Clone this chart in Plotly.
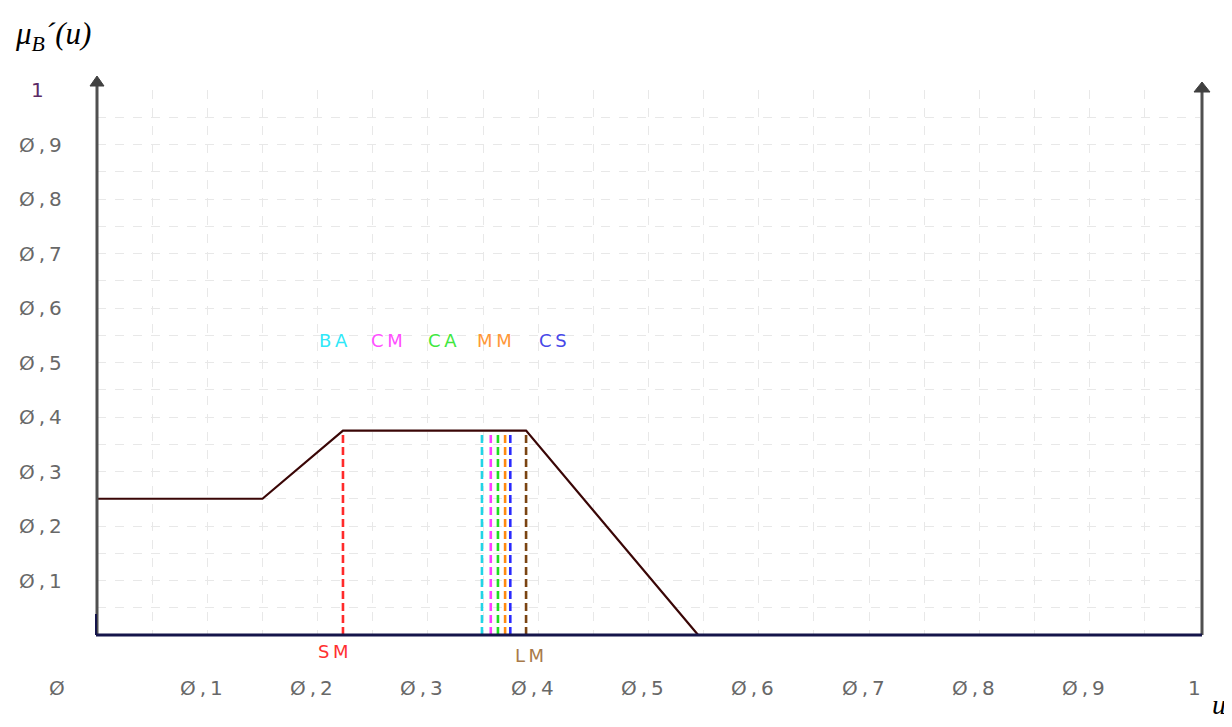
#-------------------------------------------------------
### IMPORTS ###

import plotly.graph_objects as go


#-------------------------------------------------------
### DATA ###

# membership function mu_B'(u)
u_pts  = [0.0, 0.15, 0.223, 0.389, 0.545, 1.0]
mu_pts = [0.25, 0.25, 0.375, 0.375, 0.0, 0.0]

# defuzzification results (vertical dashed lines)
method_names = ['SM', 'BA', 'CM', 'CA', 'MM', 'CS', 'LM']
method_u     = [0.223, 0.349, 0.357, 0.3635, 0.370, 0.3747, 0.389]
method_col   = ['#ff2a2a', '#22d4e6', '#ff3cff', '#22dd22', '#ff8a10', '#2a2aff', '#7a4412']
label_col    = ['#ff3030', '#30e8f8', '#ff50ff', '#40e840', '#ff9838', '#4848e8', '#a87a4a']

# tick labels
x_tickvals = [0, 0.1, 0.2, 0.3, 0.4, 0.5, 0.6, 0.7, 0.8, 0.9, 1]
x_ticktext = ['Ø', 'Ø,1', 'Ø,2', 'Ø,3', 'Ø,4', 'Ø,5', 'Ø,6', 'Ø,7', 'Ø,8', 'Ø,9', '1']
y_tickvals = [0.1, 0.2, 0.3, 0.4, 0.5, 0.6, 0.7, 0.8, 0.9, 1]
y_ticktext = ['Ø,1', 'Ø,2', 'Ø,3', 'Ø,4', 'Ø,5', 'Ø,6', 'Ø,7', 'Ø,8', 'Ø,9', '1']


#-------------------------------------------------------
### FIGURE ###

# page puts the plot 8px in from the corner, so work in screen pixels
OFF = 8
W, H = 1232, 727
L, T = 97 - OFF, 90 - OFF
R, B = W - (1200 - OFF), H - (635 - OFF)
pw, ph = W - L - R, H - T - B

def px_x(p):   # screen pixel -> paper x
    return (p - OFF - L) / pw

def px_y(p):   # screen pixel -> paper y
    return (H - B - (p - OFF)) / ph

def spaced(t):   # wide cad-like lettering
    return '\u2009'.join(t)

tick_font = dict(family='DejaVu Sans', size=20, color='#686868')

fig = go.Figure()

# dashed result lines
for name, uu, col in zip(method_names, method_u, method_col):
    top = mu_pts[2]
    fig.add_trace(go.Scatter(x=[uu, uu], y=[0, top], mode='lines',
                             line=dict(color=col, width=2.6, dash='8px,4px'),
                             showlegend=False, hoverinfo='skip'))

# membership curve
fig.add_trace(go.Scatter(x=u_pts, y=mu_pts, mode='lines',
                         line=dict(color='#3a0606', width=2.2),
                         showlegend=False))

fig.update_xaxes(range=[0, 1], dtick=0.05, tick0=0, showgrid=True,
                 gridcolor='#e8e8e8', griddash='dash', gridwidth=1,
                 showticklabels=False, zeroline=False, showline=False,
                 fixedrange=True)
fig.update_yaxes(range=[0, 1], dtick=0.05, tick0=0, showgrid=True,
                 gridcolor='#e8e8e8', griddash='dash', gridwidth=1,
                 showticklabels=False, zeroline=False, showline=False,
                 fixedrange=True)

# axes frame with arrows
shapes = [
    dict(type='line', xref='paper', yref='paper', x0=px_x(97), x1=px_x(97),
         y0=0, y1=px_y(84), line=dict(color='#505050', width=3)),
    dict(type='path', xref='paper', yref='paper',
         path=f'M {px_x(90)},{px_y(86)} L {px_x(104)},{px_y(86)} L {px_x(97)},{px_y(76)} Z',
         fillcolor='#404040', line=dict(color='#404040', width=1)),
    dict(type='line', xref='paper', yref='paper', x0=px_x(1202), x1=px_x(1202),
         y0=0, y1=px_y(90), line=dict(color='#505050', width=3)),
    dict(type='path', xref='paper', yref='paper',
         path=f'M {px_x(1194)},{px_y(92)} L {px_x(1210)},{px_y(92)} L {px_x(1202)},{px_y(82)} Z',
         fillcolor='#404040', line=dict(color='#404040', width=1)),
    dict(type='line', xref='paper', yref='paper', x0=px_x(96), x1=px_x(1202),
         y0=0, y1=0, line=dict(color='#15154a', width=3)),
    dict(type='line', xref='paper', yref='paper', x0=px_x(96), x1=px_x(96),
         y0=0, y1=px_y(614), line=dict(color='#15154a', width=2)),
]

annotations = []

# x tick labels
for v, t in zip(x_tickvals, x_ticktext):
    sx = 57 if v == 0 else 97 + v * 1103 - 6
    annotations.append(dict(x=px_x(sx), y=px_y(688), xref='paper', yref='paper',
                            text=spaced(t), showarrow=False,
                            xanchor='center', yanchor='middle', font=tick_font))

# y tick labels
for v, t in zip(y_tickvals, y_ticktext):
    sy = 635 - v * 545
    if t == '1':
        annotations.append(dict(x=px_x(37), y=px_y(sy), xref='paper', yref='paper',
                                text=t, showarrow=False, xanchor='center', yanchor='middle',
                                font=dict(tick_font, color='#5b2a66')))
    else:
        annotations.append(dict(x=px_x(64), y=px_y(sy), xref='paper', yref='paper',
                                text=spaced(t), showarrow=False, xanchor='right',
                                yanchor='middle', font=tick_font))

# method labels
label_pos = {'BA': (333, 340), 'CM': (387, 340), 'CA': (442, 340),
             'MM': (494, 340), 'CS': (553, 340), 'SM': (333, 651), 'LM': (529, 655)}
for name, col in zip(method_names, label_col):
    lx, ly = label_pos[name]
    annotations.append(dict(x=px_x(lx), y=px_y(ly), xref='paper', yref='paper',
                            text=spaced(name), showarrow=False,
                            xanchor='center', yanchor='middle',
                            font=dict(family='DejaVu Sans', size=18, color=col)))

# axis titles
annotations.append(dict(x=px_x(13), y=px_y(36), xref='paper', yref='paper',
                        text='<i>μ</i><sub><i>B</i></sub><i>´(u)</i>', showarrow=False,
                        xanchor='left', yanchor='middle',
                        font=dict(family='Liberation Serif', size=31, color='#000000')))
annotations.append(dict(x=px_x(1210), y=px_y(704), xref='paper', yref='paper',
                        text='<i>u</i>', showarrow=False, xanchor='left', yanchor='middle',
                        font=dict(family='Liberation Serif', size=28, color='#000000')))

fig.update_layout(width=W, height=H, autosize=False,
                  margin=dict(l=L, r=R, t=T, b=B),
                  paper_bgcolor='white', plot_bgcolor='white',
                  shapes=shapes, annotations=annotations,
                  showlegend=False)


#-------------------------------------------------------
### PLOT ###

fig.write_html("out.html")
